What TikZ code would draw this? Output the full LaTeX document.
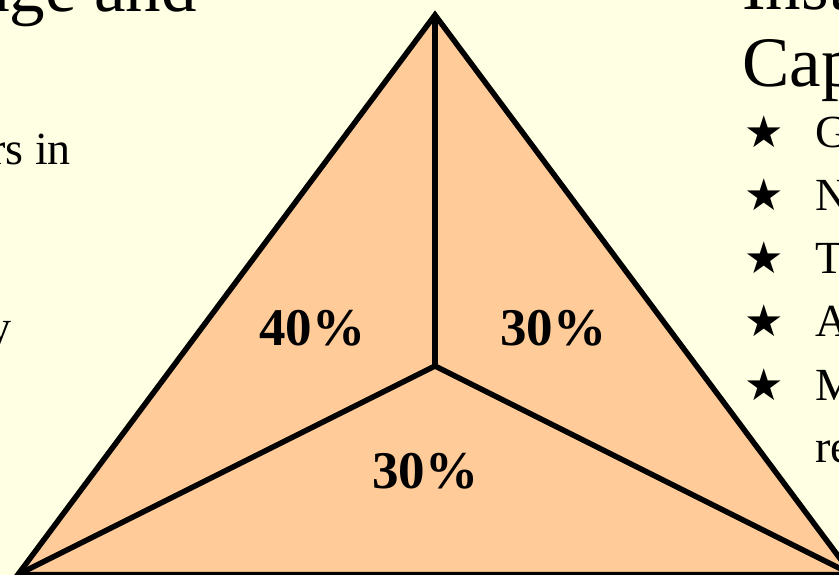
\documentclass[tikz,border=0pt]{standalone}
\usepackage{fontspec}
\setmainfont{Liberation Serif}
\newfontfamily\symfont{DejaVu Sans}
\usetikzlibrary{positioning}
\definecolor{SlideCream}{HTML}{FFFFE3}
\definecolor{SlidePeach}{HTML}{FFCC99}
\tikzset{
    % Heading text on the slide
    heading/.style={
        inner sep=0pt,
        font=\fontsize{71}{71}\selectfont
    },
    % Body text lines
    bodytext/.style={
        inner sep=0pt,
        font=\fontsize{46}{46}\selectfont
    },
    % Share label inside the triangle
    share/.style={
        inner sep=0pt,
        anchor=base,
        font=\fontsize{53}{53}\selectfont\bfseries
    },
    % Star bullet
    bullet/.style={
        inner sep=0pt,
        anchor=base west,
        font=\symfont\fontsize{44}{44}\selectfont
    },
    % Triangle edges
    edge/.style={
        line width=5.5pt,
        line join=miter,
        draw=black
    }
}
\begin{document}
\begin{tikzpicture}[x=1pt, y=-1pt]
        \useasboundingbox (0,0) rectangle (839,575);
        \clip (0,0) rectangle (839,575);
        \fill [SlideCream] (0,0) rectangle (839,575);

        % Triangle corners and centre
        \coordinate (top) at (435,15);
        \coordinate (left) at (18,574.5);
        \coordinate (right) at (852,574.5);
        \coordinate (mid) at (435,366);

        \filldraw [edge, fill=SlidePeach] (top) -- (left) -- (right) -- cycle;
        \draw [edge] (mid) -- (top);
        \draw [edge] (mid) -- (left);
        \draw [edge] (mid) -- (right);

        % Shares
        \node (s1) [share] at (312,345) {40\%};
        \node (s2) [share] at (553,345) {30\%};
        \node (s3) [share] at (425,488) {30\%};

        % Left column (cut off)
        \node (l1) [heading, anchor=base east] at (197,12) {dge and};
        \node (l2) [bodytext, anchor=base east] at (71,165) {rs in};
        \node (l3) [bodytext, anchor=base east] at (12,342) {y};

        % Right column (cut off)
        \node (r1) [heading, anchor=base west] at (742,10) {Inst};
        \node (r2) [heading, anchor=base west] at (742,87) {Cap};
        \node (b1) [bullet] at (744,148) {★};
        \node (i1) [bodytext, anchor=base west] at (815,148) {G};
        \node (b2) [bullet] at (744,211) {★};
        \node (i2) [bodytext, anchor=base west] at (815,211) {N};
        \node (b3) [bullet] at (744,273) {★};
        \node (i3) [bodytext, anchor=base west] at (815,273) {T};
        \node (b4) [bullet] at (744,336) {★};
        \node (i4) [bodytext, anchor=base west] at (815,336) {A};
        \node (b5) [bullet] at (744,400) {★};
        \node (i5) [bodytext, anchor=base west] at (815,400) {M};
        \node (i6) [bodytext, anchor=base west] at (815,462) {re};
\end{tikzpicture}
\end{document}
